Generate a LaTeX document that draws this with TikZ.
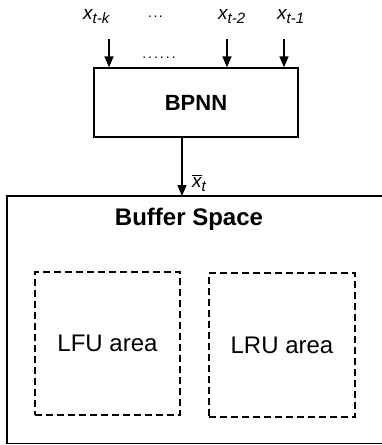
\documentclass[tikz,border=0pt]{standalone}
\usepackage{fontspec}
\setmainfont{Liberation Sans}
\usetikzlibrary{arrows.meta}
\tikzset{
  solidline/.style={line width=1.3pt, draw=black},
  arr/.style={solidline, -{Triangle[length=11pt,width=9pt]}},
  areabox/.style={draw=black, line width=1.5pt, dash pattern=on 7pt off 4pt,
    minimum width=#1, inner sep=0pt, font=\fontsize{24}{24}\selectfont},
  lbl/.style={anchor=base west, inner sep=0pt},
}
\newcommand{\xlab}[1]{{\fontsize{19}{19}\selectfont\itshape x}\raisebox{-4pt}{\fontsize{15}{15}\selectfont\itshape #1}}
\begin{document}
\begin{tikzpicture}[x=1pt,y=-1pt]
\useasboundingbox (0,0) rectangle (382,445);
% BPNN box
\node[solidline, draw, minimum width=204pt, minimum height=69pt, inner sep=0pt,
  font=\fontsize{22}{22}\selectfont\bfseries] (bpnn) at (196,102.5) {BPNN};
% input labels
\node[lbl] (lk) at (83,19) {\xlab{t-k}};
\node[lbl] (l2) at (218,19) {\xlab{t-2}};
\node[lbl] (l1) at (277,19) {\xlab{t-1}};
\node[inner sep=0pt, font=\fontsize{14}{14}\selectfont] (dotsA) at (155.5,17) {.\kern1.5pt.\kern1.5pt.};
\node[inner sep=0pt, font=\fontsize{14}{14}\selectfont] (dotsB) at (159,58) {.\kern2pt.\kern2pt.\kern2pt.\kern2pt.\kern2pt.};
% input arrows
\coordinate (ik) at (109,39);
\coordinate (i2) at (227,39);
\coordinate (i1) at (284,39);
\draw[arr] (ik) -- (ik |- bpnn.north);
\draw[arr] (i2) -- (i2 |- bpnn.north);
\draw[arr] (i1) -- (i1 |- bpnn.north);
% buffer space frame (right side beyond page)
\node[minimum width=375pt, minimum height=247pt, inner sep=0pt, anchor=north west] (buf) at (7,196) {};
\draw[solidline] (buf.north east) -- (buf.north west) -- (buf.south west) -- (buf.south east);
\node[font=\fontsize{24}{24}\selectfont\bfseries, anchor=base, inner sep=0pt] (buftitle) at (189,225) {Buffer Space};
% output arrow
\coordinate (out) at (182,0);
\draw[arr] (bpnn.south -| out) -- (buf.north -| out);
\node[anchor=base west, inner sep=0pt] (xbar) at (192,187)
  {$\overline{\hbox{\fontsize{19}{19}\selectfont\itshape x}}$\raisebox{-4pt}{\fontsize{15}{15}\selectfont\itshape t}};
% areas
\node[areabox=145pt, minimum height=143pt] (lfu) at (107.5,343.5) {LFU area};
\node[areabox=146pt, minimum height=144pt] (lru) at (282,345) {LRU area};
\end{tikzpicture}
\end{document}
